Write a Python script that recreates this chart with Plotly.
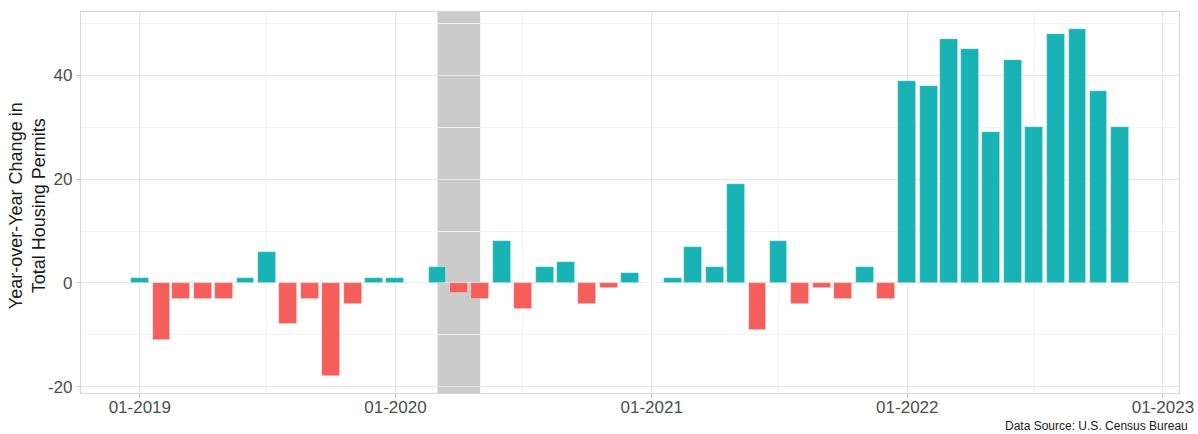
import plotly.graph_objects as go

months = [
    "2019-01-01", "2019-02-01", "2019-03-01", "2019-04-01", "2019-05-01", "2019-06-01",
    "2019-07-01", "2019-08-01", "2019-09-01", "2019-10-01", "2019-11-01", "2019-12-01",
    "2020-01-01", "2020-02-01", "2020-03-01", "2020-04-01", "2020-05-01", "2020-06-01",
    "2020-07-01", "2020-08-01", "2020-09-01", "2020-10-01", "2020-11-01", "2020-12-01",
    "2021-01-01", "2021-02-01", "2021-03-01", "2021-04-01", "2021-05-01", "2021-06-01",
    "2021-07-01", "2021-08-01", "2021-09-01", "2021-10-01", "2021-11-01", "2021-12-01",
    "2022-01-01", "2022-02-01", "2022-03-01", "2022-04-01", "2022-05-01", "2022-06-01",
    "2022-07-01", "2022-08-01", "2022-09-01", "2022-10-01", "2022-11-01",
]
yoy_change = [
    1, -11, -3, -3, -3, 1, 6, -8, -3, -18, -4, 1,
    1, 0, 3, -2, -3, 8, -5, 3, 4, -4, -1, 2,
    0, 1, 7, 3, 19, -9, 8, -4, -1, -3, 3, -3,
    39, 38, 47, 45, 29, 43, 30, 48, 49, 37, 30,
]
y_tick_values = [-20, 0, 20, 40]
y_tick_labels = ["-20", "0", "20", "40"]
recession_start = "2020-03-01"
recession_end = "2020-05-01"
y_title = "Year-over-Year Change in<br>Total Housing Permits"
source_note = "Data Source: U.S. Census Bureau"

TEAL = "#19B3B5"
RED = "#F45F5B"
colors = [TEAL if v > 0 else RED for v in yoy_change]

DAY_MS = 86400000
fig = go.Figure()
fig.add_trace(go.Bar(
    x=months, y=yoy_change,
    marker=dict(color=colors, line=dict(color="rgba(255,255,255,0.55)", width=0.7)),
    width=[25.5 * DAY_MS] * len(months),
    showlegend=False,
))

fig.add_shape(type="rect", xref="x", yref="paper",
              x0=recession_start, x1=recession_end, y0=0, y1=1,
              fillcolor="#CBCBCB", line=dict(width=0), layer="between")

font_family = "Liberation Sans, Arial, sans-serif"
fig.update_layout(
    width=1198, height=434,
    margin=dict(l=81, r=19, t=12, b=41),
    paper_bgcolor="white", plot_bgcolor="white",
    font=dict(family=font_family, size=17, color="#4D4D4D"),
    bargap=0,
    xaxis=dict(
        type="date", automargin=False, ticklabeloverflow="allow",
        range=["2018-10-09", "2023-01-24"],
        tick0="2019-01-01", dtick="M12", tickformat="%m-%Y",
        showgrid=True, gridcolor="#E6E6E6", gridwidth=1,
        minor=dict(dtick="M6", tick0="2019-01-01", showgrid=True, gridcolor="#F3F3F3", gridwidth=1),
        ticks="outside", ticklen=4, tickcolor="#C8C8C8",
        ticklabelstandoff=-6,
        showline=True, mirror=True, linecolor="#D6D6D6", linewidth=1.2,
        zeroline=False,
        tickfont=dict(size=17, color="#4D4D4D"),
    ),
    yaxis=dict(
        automargin=False,
        range=[-21.2, 52.2],
        tickmode="array", tickvals=y_tick_values, ticktext=y_tick_labels,
        showgrid=True, gridcolor="#E6E6E6", gridwidth=1,
        minor=dict(dtick=10, tick0=0, showgrid=True, gridcolor="#F3F3F3", gridwidth=1),
        ticks="outside", ticklen=4, tickcolor="#C8C8C8",
        showline=True, mirror=True, linecolor="#D6D6D6", linewidth=1.2,
        zeroline=False,
        tickfont=dict(size=17, color="#4D4D4D"),
    ),
    annotations=[
        dict(
            text=y_title, xref="paper", yref="paper",
            x=-0.0492, y=0.493, xanchor="center", yanchor="middle",
            textangle=-90, showarrow=False,
            font=dict(size=18, color="#1A1A1A"),
        ),
        dict(
            text=source_note, xref="paper", yref="paper",
            x=1.01, y=-0.087, xanchor="right", yanchor="middle",
            showarrow=False, font=dict(size=12, color="#1A1A1A"),
        ),
    ],
)

fig.write_html(
    "out.html",
    config={"displayModeBar": False},
    post_script="document.body.style.margin='0';document.body.style.overflow='hidden';"
                "document.documentElement.style.overflow='hidden';",
)
